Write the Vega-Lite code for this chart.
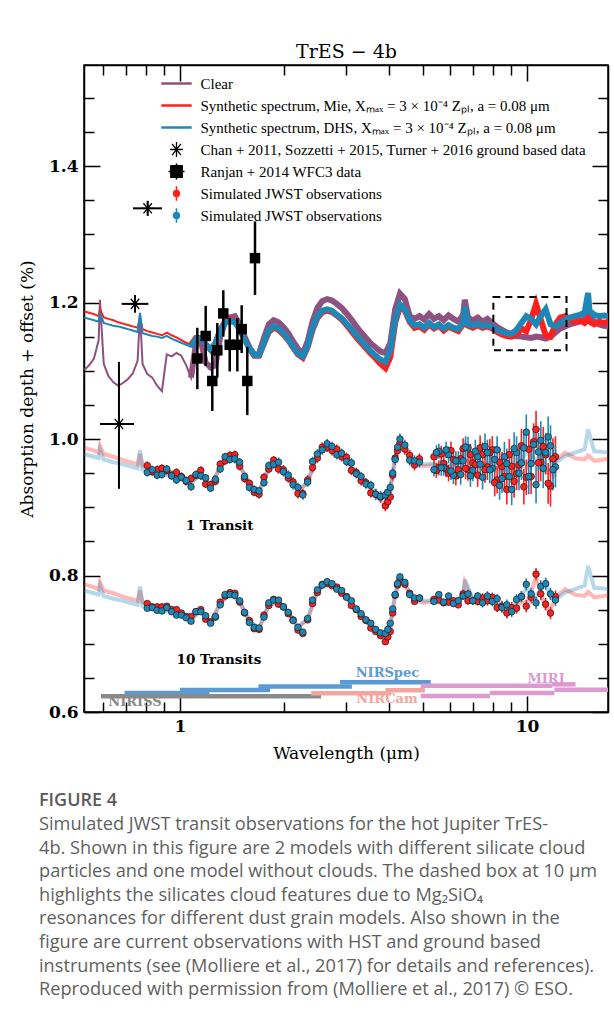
{
"$schema":"https://vega.github.io/schema/vega-lite/v6.json",
"width":524,"height":647,
"autosize":{"type":"none"},
"padding":{"left":84,"top":65,"right":6,"bottom":311},
"background":"#ffffff",
"title":{"text":"FIGURE 4","subtitle":["Simulated JWST transit observations for the hot Jupiter TrES-","4b. Shown in this figure are 2 models with different silicate cloud","particles and one model without clouds. The dashed box at 10 μm","highlights the silicates cloud features due to Mg₂SiO₄","resonances for different dust grain models. Also shown in the","figure are current observations with HST and ground based","instruments (see (Molliere et al., 2017) for details and references).","Reproduced with permission from (Molliere et al., 2017) © ESO."],"orient":"bottom","anchor":"start","frame":"group","dx":-45,"offset":31,"font":"Open Sans","fontSize":18,"fontWeight":600,"color":"#5a5a5a","subtitleFont":"Open Sans","subtitleFontSize":18.2,"subtitleColor":"#5f5f5f","subtitleLineHeight":23.6,"subtitlePadding":6},
"datasets":{
"lines":[
{"w":0.530,"s":"C","g":0,"v":1.101},{"w":0.547,"s":"C","g":0,"v":1.108},{"w":0.565,"s":"C","g":0,"v":1.118},{"w":0.583,"s":"C","g":0,"v":1.145},{"w":0.588,"s":"C","g":0,"v":1.204},{"w":0.603,"s":"C","g":0,"v":1.110},{"w":0.622,"s":"C","g":0,"v":1.092},{"w":0.643,"s":"C","g":0,"v":1.083},{"w":0.664,"s":"C","g":0,"v":1.078},{"w":0.685,"s":"C","g":0,"v":1.082},{"w":0.708,"s":"C","g":0,"v":1.088},{"w":0.731,"s":"C","g":0,"v":1.096},{"w":0.755,"s":"C","g":0,"v":1.115},{"w":0.767,"s":"C","g":0,"v":1.185},{"w":0.780,"s":"C","g":0,"v":1.110},{"w":0.805,"s":"C","g":0,"v":1.095},{"w":0.832,"s":"C","g":0,"v":1.090},{"w":0.859,"s":"C","g":0,"v":1.078},{"w":0.887,"s":"C","g":0,"v":1.070},{"w":0.916,"s":"C","g":0,"v":1.124},{"w":0.946,"s":"C","g":0,"v":1.121},{"w":0.977,"s":"C","g":0,"v":1.126},{"w":1.009,"s":"C","g":0,"v":1.122},{"w":1.042,"s":"C","g":0,"v":1.108},{"w":1.076,"s":"C","g":0,"v":1.090},{"w":1.112,"s":"C","g":0,"v":1.140},{"w":1.148,"s":"C","g":0,"v":1.145},{"w":1.186,"s":"C","g":0,"v":1.112},{"w":1.225,"s":"C","g":0,"v":1.105},{"w":1.265,"s":"C","g":0,"v":1.108},{"w":1.306,"s":"C","g":0,"v":1.150},{"w":1.349,"s":"C","g":0,"v":1.172},{"w":1.393,"s":"C","g":0,"v":1.178},{"w":1.439,"s":"C","g":0,"v":1.180},{"w":1.486,"s":"C","g":0,"v":1.168},{"w":1.535,"s":"C","g":0,"v":1.150},{"w":1.585,"s":"C","g":0,"v":1.134},{"w":1.637,"s":"C","g":0,"v":1.124},{"w":1.690,"s":"C","g":0,"v":1.125},{"w":1.746,"s":"C","g":0,"v":1.148},{"w":1.803,"s":"C","g":0,"v":1.168},{"w":1.862,"s":"C","g":0,"v":1.174},{"w":1.923,"s":"C","g":0,"v":1.171},{"w":1.986,"s":"C","g":0,"v":1.164},{"w":2.051,"s":"C","g":0,"v":1.155},{"w":2.118,"s":"C","g":0,"v":1.143},{"w":2.188,"s":"C","g":0,"v":1.132},{"w":2.259,"s":"C","g":0,"v":1.125},{"w":2.333,"s":"C","g":0,"v":1.143},{"w":2.410,"s":"C","g":0,"v":1.172},{"w":2.489,"s":"C","g":0,"v":1.192},{"w":2.570,"s":"C","g":0,"v":1.202},{"w":2.655,"s":"C","g":0,"v":1.205},{"w":2.742,"s":"C","g":0,"v":1.203},{"w":2.831,"s":"C","g":0,"v":1.198},{"w":2.924,"s":"C","g":0,"v":1.192},{"w":3.020,"s":"C","g":0,"v":1.184},{"w":3.119,"s":"C","g":0,"v":1.175},{"w":3.221,"s":"C","g":0,"v":1.165},{"w":3.327,"s":"C","g":0,"v":1.156},{"w":3.436,"s":"C","g":0,"v":1.148},{"w":3.548,"s":"C","g":0,"v":1.140},{"w":3.664,"s":"C","g":0,"v":1.134},{"w":3.784,"s":"C","g":0,"v":1.128},{"w":3.908,"s":"C","g":0,"v":1.126},{"w":4.036,"s":"C","g":0,"v":1.140},{"w":4.169,"s":"C","g":0,"v":1.190},{"w":4.305,"s":"C","g":0,"v":1.213},{"w":4.446,"s":"C","g":0,"v":1.205},{"w":4.592,"s":"C","g":0,"v":1.180},{"w":4.742,"s":"C","g":0,"v":1.176},{"w":4.898,"s":"C","g":0,"v":1.180},{"w":5.058,"s":"C","g":0,"v":1.175},{"w":5.224,"s":"C","g":0,"v":1.183},{"w":5.395,"s":"C","g":0,"v":1.176},{"w":5.572,"s":"C","g":0,"v":1.180},{"w":5.754,"s":"C","g":0,"v":1.174},{"w":5.943,"s":"C","g":0,"v":1.181},{"w":6.138,"s":"C","g":0,"v":1.176},{"w":6.339,"s":"C","g":0,"v":1.172},{"w":6.546,"s":"C","g":0,"v":1.182},{"w":6.62,"s":"C","g":0,"v":1.204},{"w":6.761,"s":"C","g":0,"v":1.178},{"w":6.982,"s":"C","g":0,"v":1.174},{"w":7.211,"s":"C","g":0,"v":1.178},{"w":7.447,"s":"C","g":0,"v":1.172},{"w":7.691,"s":"C","g":0,"v":1.176},{"w":7.943,"s":"C","g":0,"v":1.170},{"w":8.204,"s":"C","g":0,"v":1.164},{"w":8.472,"s":"C","g":0,"v":1.160},{"w":8.750,"s":"C","g":0,"v":1.156},{"w":9.036,"s":"C","g":0,"v":1.153},{"w":9.333,"s":"C","g":0,"v":1.151},{"w":9.638,"s":"C","g":0,"v":1.150},{"w":9.954,"s":"C","g":0,"v":1.149},{"w":10.28,"s":"C","g":0,"v":1.148},{"w":10.62,"s":"C","g":0,"v":1.150},{"w":10.96,"s":"C","g":0,"v":1.149},{"w":11.32,"s":"C","g":0,"v":1.147},{"w":11.69,"s":"C","g":0,"v":1.150},{"w":12.08,"s":"C","g":0,"v":1.156},{"w":12.47,"s":"C","g":0,"v":1.162},{"w":12.88,"s":"C","g":0,"v":1.165},{"w":13.30,"s":"C","g":0,"v":1.168},{"w":13.74,"s":"C","g":0,"v":1.170},{"w":14.19,"s":"C","g":0,"v":1.172},{"w":14.66,"s":"C","g":0,"v":1.175},{"w":15.0,"s":"C","g":0,"v":1.190},{"w":15.14,"s":"C","g":0,"v":1.180},{"w":15.63,"s":"C","g":0,"v":1.172},{"w":16.14,"s":"C","g":0,"v":1.168},{"w":16.67,"s":"C","g":0,"v":1.166},{"w":17.22,"s":"C","g":0,"v":1.165},
{"w":0.530,"s":"M","g":0,"v":1.187},{"w":0.547,"s":"M","g":0,"v":1.185},{"w":0.565,"s":"M","g":0,"v":1.183},{"w":0.583,"s":"M","g":0,"v":1.180},{"w":0.588,"s":"M","g":0,"v":1.190},{"w":0.603,"s":"M","g":0,"v":1.178},{"w":0.622,"s":"M","g":0,"v":1.176},{"w":0.643,"s":"M","g":0,"v":1.174},{"w":0.664,"s":"M","g":0,"v":1.171},{"w":0.685,"s":"M","g":0,"v":1.169},{"w":0.708,"s":"M","g":0,"v":1.167},{"w":0.731,"s":"M","g":0,"v":1.165},{"w":0.755,"s":"M","g":0,"v":1.163},{"w":0.767,"s":"M","g":0,"v":1.178},{"w":0.780,"s":"M","g":0,"v":1.161},{"w":0.805,"s":"M","g":0,"v":1.158},{"w":0.832,"s":"M","g":0,"v":1.156},{"w":0.859,"s":"M","g":0,"v":1.154},{"w":0.887,"s":"M","g":0,"v":1.152},{"w":0.916,"s":"M","g":0,"v":1.156},{"w":0.946,"s":"M","g":0,"v":1.152},{"w":0.977,"s":"M","g":0,"v":1.149},{"w":1.009,"s":"M","g":0,"v":1.145},{"w":1.042,"s":"M","g":0,"v":1.141},{"w":1.076,"s":"M","g":0,"v":1.138},{"w":1.112,"s":"M","g":0,"v":1.148},{"w":1.148,"s":"M","g":0,"v":1.148},{"w":1.186,"s":"M","g":0,"v":1.138},{"w":1.225,"s":"M","g":0,"v":1.131},{"w":1.265,"s":"M","g":0,"v":1.140},{"w":1.306,"s":"M","g":0,"v":1.160},{"w":1.349,"s":"M","g":0,"v":1.172},{"w":1.393,"s":"M","g":0,"v":1.175},{"w":1.439,"s":"M","g":0,"v":1.172},{"w":1.486,"s":"M","g":0,"v":1.162},{"w":1.535,"s":"M","g":0,"v":1.147},{"w":1.585,"s":"M","g":0,"v":1.133},{"w":1.637,"s":"M","g":0,"v":1.122},{"w":1.690,"s":"M","g":0,"v":1.122},{"w":1.746,"s":"M","g":0,"v":1.140},{"w":1.803,"s":"M","g":0,"v":1.157},{"w":1.862,"s":"M","g":0,"v":1.163},{"w":1.923,"s":"M","g":0,"v":1.160},{"w":1.986,"s":"M","g":0,"v":1.153},{"w":2.051,"s":"M","g":0,"v":1.145},{"w":2.118,"s":"M","g":0,"v":1.134},{"w":2.188,"s":"M","g":0,"v":1.124},{"w":2.259,"s":"M","g":0,"v":1.119},{"w":2.333,"s":"M","g":0,"v":1.135},{"w":2.410,"s":"M","g":0,"v":1.160},{"w":2.489,"s":"M","g":0,"v":1.177},{"w":2.570,"s":"M","g":0,"v":1.186},{"w":2.655,"s":"M","g":0,"v":1.188},{"w":2.742,"s":"M","g":0,"v":1.186},{"w":2.831,"s":"M","g":0,"v":1.181},{"w":2.924,"s":"M","g":0,"v":1.175},{"w":3.020,"s":"M","g":0,"v":1.167},{"w":3.119,"s":"M","g":0,"v":1.158},{"w":3.221,"s":"M","g":0,"v":1.149},{"w":3.327,"s":"M","g":0,"v":1.141},{"w":3.436,"s":"M","g":0,"v":1.133},{"w":3.548,"s":"M","g":0,"v":1.125},{"w":3.664,"s":"M","g":0,"v":1.118},{"w":3.784,"s":"M","g":0,"v":1.110},{"w":3.908,"s":"M","g":0,"v":1.104},{"w":4.036,"s":"M","g":0,"v":1.120},{"w":4.169,"s":"M","g":0,"v":1.170},{"w":4.305,"s":"M","g":0,"v":1.194},{"w":4.446,"s":"M","g":0,"v":1.188},{"w":4.592,"s":"M","g":0,"v":1.172},{"w":4.742,"s":"M","g":0,"v":1.163},{"w":4.898,"s":"M","g":0,"v":1.165},{"w":5.058,"s":"M","g":0,"v":1.160},{"w":5.224,"s":"M","g":0,"v":1.168},{"w":5.395,"s":"M","g":0,"v":1.162},{"w":5.572,"s":"M","g":0,"v":1.166},{"w":5.754,"s":"M","g":0,"v":1.159},{"w":5.943,"s":"M","g":0,"v":1.165},{"w":6.138,"s":"M","g":0,"v":1.161},{"w":6.339,"s":"M","g":0,"v":1.158},{"w":6.546,"s":"M","g":0,"v":1.168},{"w":6.62,"s":"M","g":0,"v":1.190},{"w":6.761,"s":"M","g":0,"v":1.166},{"w":6.982,"s":"M","g":0,"v":1.163},{"w":7.211,"s":"M","g":0,"v":1.167},{"w":7.447,"s":"M","g":0,"v":1.163},{"w":7.691,"s":"M","g":0,"v":1.165},{"w":7.943,"s":"M","g":0,"v":1.162},{"w":8.204,"s":"M","g":0,"v":1.157},{"w":8.472,"s":"M","g":0,"v":1.153},{"w":8.750,"s":"M","g":0,"v":1.151},{"w":9.036,"s":"M","g":0,"v":1.150},{"w":9.333,"s":"M","g":0,"v":1.153},{"w":9.638,"s":"M","g":0,"v":1.162},{"w":9.954,"s":"M","g":0,"v":1.158},{"w":10.28,"s":"M","g":0,"v":1.175},{"w":10.62,"s":"M","g":0,"v":1.198},{"w":10.96,"s":"M","g":0,"v":1.175},{"w":11.32,"s":"M","g":0,"v":1.152},{"w":11.69,"s":"M","g":0,"v":1.150},{"w":12.08,"s":"M","g":0,"v":1.168},{"w":12.47,"s":"M","g":0,"v":1.178},{"w":12.88,"s":"M","g":0,"v":1.180},{"w":13.30,"s":"M","g":0,"v":1.176},{"w":13.74,"s":"M","g":0,"v":1.172},{"w":14.19,"s":"M","g":0,"v":1.174},{"w":14.66,"s":"M","g":0,"v":1.170},{"w":15.0,"s":"M","g":0,"v":1.176},{"w":15.14,"s":"M","g":0,"v":1.172},{"w":15.63,"s":"M","g":0,"v":1.168},{"w":16.14,"s":"M","g":0,"v":1.172},{"w":16.67,"s":"M","g":0,"v":1.170},{"w":17.22,"s":"M","g":0,"v":1.172},
{"w":0.530,"s":"D","g":0,"v":1.178},{"w":0.547,"s":"D","g":0,"v":1.176},{"w":0.565,"s":"D","g":0,"v":1.174},{"w":0.583,"s":"D","g":0,"v":1.172},{"w":0.588,"s":"D","g":0,"v":1.184},{"w":0.603,"s":"D","g":0,"v":1.170},{"w":0.622,"s":"D","g":0,"v":1.168},{"w":0.643,"s":"D","g":0,"v":1.166},{"w":0.664,"s":"D","g":0,"v":1.165},{"w":0.685,"s":"D","g":0,"v":1.163},{"w":0.708,"s":"D","g":0,"v":1.161},{"w":0.731,"s":"D","g":0,"v":1.159},{"w":0.755,"s":"D","g":0,"v":1.157},{"w":0.767,"s":"D","g":0,"v":1.184},{"w":0.780,"s":"D","g":0,"v":1.155},{"w":0.805,"s":"D","g":0,"v":1.153},{"w":0.832,"s":"D","g":0,"v":1.151},{"w":0.859,"s":"D","g":0,"v":1.150},{"w":0.887,"s":"D","g":0,"v":1.148},{"w":0.916,"s":"D","g":0,"v":1.151},{"w":0.946,"s":"D","g":0,"v":1.147},{"w":0.977,"s":"D","g":0,"v":1.144},{"w":1.009,"s":"D","g":0,"v":1.141},{"w":1.042,"s":"D","g":0,"v":1.138},{"w":1.076,"s":"D","g":0,"v":1.135},{"w":1.112,"s":"D","g":0,"v":1.146},{"w":1.148,"s":"D","g":0,"v":1.148},{"w":1.186,"s":"D","g":0,"v":1.139},{"w":1.225,"s":"D","g":0,"v":1.131},{"w":1.265,"s":"D","g":0,"v":1.140},{"w":1.306,"s":"D","g":0,"v":1.158},{"w":1.349,"s":"D","g":0,"v":1.170},{"w":1.393,"s":"D","g":0,"v":1.173},{"w":1.439,"s":"D","g":0,"v":1.171},{"w":1.486,"s":"D","g":0,"v":1.161},{"w":1.535,"s":"D","g":0,"v":1.146},{"w":1.585,"s":"D","g":0,"v":1.133},{"w":1.637,"s":"D","g":0,"v":1.123},{"w":1.690,"s":"D","g":0,"v":1.123},{"w":1.746,"s":"D","g":0,"v":1.141},{"w":1.803,"s":"D","g":0,"v":1.159},{"w":1.862,"s":"D","g":0,"v":1.165},{"w":1.923,"s":"D","g":0,"v":1.162},{"w":1.986,"s":"D","g":0,"v":1.155},{"w":2.051,"s":"D","g":0,"v":1.146},{"w":2.118,"s":"D","g":0,"v":1.135},{"w":2.188,"s":"D","g":0,"v":1.125},{"w":2.259,"s":"D","g":0,"v":1.121},{"w":2.333,"s":"D","g":0,"v":1.137},{"w":2.410,"s":"D","g":0,"v":1.162},{"w":2.489,"s":"D","g":0,"v":1.179},{"w":2.570,"s":"D","g":0,"v":1.188},{"w":2.655,"s":"D","g":0,"v":1.190},{"w":2.742,"s":"D","g":0,"v":1.188},{"w":2.831,"s":"D","g":0,"v":1.182},{"w":2.924,"s":"D","g":0,"v":1.177},{"w":3.020,"s":"D","g":0,"v":1.169},{"w":3.119,"s":"D","g":0,"v":1.161},{"w":3.221,"s":"D","g":0,"v":1.152},{"w":3.327,"s":"D","g":0,"v":1.144},{"w":3.436,"s":"D","g":0,"v":1.136},{"w":3.548,"s":"D","g":0,"v":1.128},{"w":3.664,"s":"D","g":0,"v":1.122},{"w":3.784,"s":"D","g":0,"v":1.116},{"w":3.908,"s":"D","g":0,"v":1.113},{"w":4.036,"s":"D","g":0,"v":1.130},{"w":4.169,"s":"D","g":0,"v":1.174},{"w":4.305,"s":"D","g":0,"v":1.197},{"w":4.446,"s":"D","g":0,"v":1.190},{"w":4.592,"s":"D","g":0,"v":1.174},{"w":4.742,"s":"D","g":0,"v":1.166},{"w":4.898,"s":"D","g":0,"v":1.168},{"w":5.058,"s":"D","g":0,"v":1.163},{"w":5.224,"s":"D","g":0,"v":1.170},{"w":5.395,"s":"D","g":0,"v":1.164},{"w":5.572,"s":"D","g":0,"v":1.168},{"w":5.754,"s":"D","g":0,"v":1.162},{"w":5.943,"s":"D","g":0,"v":1.167},{"w":6.138,"s":"D","g":0,"v":1.163},{"w":6.339,"s":"D","g":0,"v":1.161},{"w":6.546,"s":"D","g":0,"v":1.170},{"w":6.62,"s":"D","g":0,"v":1.194},{"w":6.761,"s":"D","g":0,"v":1.168},{"w":6.982,"s":"D","g":0,"v":1.166},{"w":7.211,"s":"D","g":0,"v":1.169},{"w":7.447,"s":"D","g":0,"v":1.165},{"w":7.691,"s":"D","g":0,"v":1.167},{"w":7.943,"s":"D","g":0,"v":1.164},{"w":8.204,"s":"D","g":0,"v":1.160},{"w":8.472,"s":"D","g":0,"v":1.157},{"w":8.750,"s":"D","g":0,"v":1.155},{"w":9.036,"s":"D","g":0,"v":1.154},{"w":9.333,"s":"D","g":0,"v":1.160},{"w":9.638,"s":"D","g":0,"v":1.170},{"w":9.954,"s":"D","g":0,"v":1.180},{"w":10.28,"s":"D","g":0,"v":1.176},{"w":10.62,"s":"D","g":0,"v":1.168},{"w":10.96,"s":"D","g":0,"v":1.180},{"w":11.32,"s":"D","g":0,"v":1.190},{"w":11.69,"s":"D","g":0,"v":1.168},{"w":12.08,"s":"D","g":0,"v":1.165},{"w":12.47,"s":"D","g":0,"v":1.170},{"w":12.88,"s":"D","g":0,"v":1.175},{"w":13.30,"s":"D","g":0,"v":1.178},{"w":13.74,"s":"D","g":0,"v":1.180},{"w":14.19,"s":"D","g":0,"v":1.182},{"w":14.66,"s":"D","g":0,"v":1.185},{"w":15.0,"s":"D","g":0,"v":1.214},{"w":15.14,"s":"D","g":0,"v":1.188},{"w":15.63,"s":"D","g":0,"v":1.182},{"w":16.14,"s":"D","g":0,"v":1.180},{"w":16.67,"s":"D","g":0,"v":1.181},{"w":17.22,"s":"D","g":0,"v":1.180},
{"w":0.530,"s":"M","g":1,"v":0.987},{"w":0.565,"s":"M","g":1,"v":0.983},{"w":0.583,"s":"M","g":1,"v":0.980},{"w":0.588,"s":"M","g":1,"v":0.990},{"w":0.603,"s":"M","g":1,"v":0.978},{"w":0.643,"s":"M","g":1,"v":0.974},{"w":0.685,"s":"M","g":1,"v":0.969},{"w":0.731,"s":"M","g":1,"v":0.965},{"w":0.755,"s":"M","g":1,"v":0.963},{"w":0.767,"s":"M","g":1,"v":0.978},{"w":0.780,"s":"M","g":1,"v":0.961},{"w":0.832,"s":"M","g":1,"v":0.956},{"w":0.887,"s":"M","g":1,"v":0.952},{"w":0.946,"s":"M","g":1,"v":0.952},{"w":1.009,"s":"M","g":1,"v":0.945},{"w":1.076,"s":"M","g":1,"v":0.938},{"w":1.148,"s":"M","g":1,"v":0.948},{"w":1.225,"s":"M","g":1,"v":0.931},{"w":1.306,"s":"M","g":1,"v":0.960},{"w":1.393,"s":"M","g":1,"v":0.975},{"w":1.486,"s":"M","g":1,"v":0.962},{"w":1.585,"s":"M","g":1,"v":0.933},{"w":1.690,"s":"M","g":1,"v":0.922},{"w":1.803,"s":"M","g":1,"v":0.957},{"w":1.923,"s":"M","g":1,"v":0.960},{"w":2.051,"s":"M","g":1,"v":0.945},{"w":2.188,"s":"M","g":1,"v":0.924},{"w":2.333,"s":"M","g":1,"v":0.935},{"w":2.489,"s":"M","g":1,"v":0.977},{"w":2.655,"s":"M","g":1,"v":0.988},{"w":2.831,"s":"M","g":1,"v":0.981},{"w":3.020,"s":"M","g":1,"v":0.967},{"w":3.221,"s":"M","g":1,"v":0.949},{"w":3.436,"s":"M","g":1,"v":0.933},{"w":3.664,"s":"M","g":1,"v":0.918},{"w":3.784,"s":"M","g":1,"v":0.910},{"w":3.908,"s":"M","g":1,"v":0.904},{"w":4.036,"s":"M","g":1,"v":0.920},{"w":4.169,"s":"M","g":1,"v":0.970},{"w":4.305,"s":"M","g":1,"v":0.994},{"w":4.446,"s":"M","g":1,"v":0.988},{"w":4.592,"s":"M","g":1,"v":0.972},{"w":4.742,"s":"M","g":1,"v":0.963},{"w":5.058,"s":"M","g":1,"v":0.960},{"w":5.395,"s":"M","g":1,"v":0.962},{"w":5.754,"s":"M","g":1,"v":0.959},{"w":6.138,"s":"M","g":1,"v":0.961},{"w":6.546,"s":"M","g":1,"v":0.968},{"w":6.62,"s":"M","g":1,"v":0.990},{"w":6.982,"s":"M","g":1,"v":0.963},{"w":7.447,"s":"M","g":1,"v":0.963},{"w":7.943,"s":"M","g":1,"v":0.962},{"w":8.472,"s":"M","g":1,"v":0.953},{"w":9.036,"s":"M","g":1,"v":0.950},{"w":9.333,"s":"M","g":1,"v":0.953},{"w":9.638,"s":"M","g":1,"v":0.962},{"w":9.954,"s":"M","g":1,"v":0.958},{"w":10.28,"s":"M","g":1,"v":0.975},{"w":10.62,"s":"M","g":1,"v":0.998},{"w":10.96,"s":"M","g":1,"v":0.975},{"w":11.32,"s":"M","g":1,"v":0.952},{"w":11.69,"s":"M","g":1,"v":0.950},{"w":12.08,"s":"M","g":1,"v":0.968},{"w":12.88,"s":"M","g":1,"v":0.980},{"w":13.74,"s":"M","g":1,"v":0.972},{"w":14.66,"s":"M","g":1,"v":0.970},{"w":15.0,"s":"M","g":1,"v":0.976},{"w":15.63,"s":"M","g":1,"v":0.968},{"w":16.67,"s":"M","g":1,"v":0.970},{"w":17.22,"s":"M","g":1,"v":0.972},
{"w":0.530,"s":"D","g":1,"v":0.978},{"w":0.565,"s":"D","g":1,"v":0.974},{"w":0.583,"s":"D","g":1,"v":0.972},{"w":0.588,"s":"D","g":1,"v":0.984},{"w":0.603,"s":"D","g":1,"v":0.970},{"w":0.643,"s":"D","g":1,"v":0.966},{"w":0.685,"s":"D","g":1,"v":0.963},{"w":0.731,"s":"D","g":1,"v":0.959},{"w":0.755,"s":"D","g":1,"v":0.957},{"w":0.767,"s":"D","g":1,"v":0.984},{"w":0.780,"s":"D","g":1,"v":0.955},{"w":0.832,"s":"D","g":1,"v":0.951},{"w":0.887,"s":"D","g":1,"v":0.948},{"w":0.946,"s":"D","g":1,"v":0.947},{"w":1.009,"s":"D","g":1,"v":0.941},{"w":1.076,"s":"D","g":1,"v":0.935},{"w":1.148,"s":"D","g":1,"v":0.948},{"w":1.225,"s":"D","g":1,"v":0.931},{"w":1.306,"s":"D","g":1,"v":0.958},{"w":1.393,"s":"D","g":1,"v":0.973},{"w":1.486,"s":"D","g":1,"v":0.961},{"w":1.585,"s":"D","g":1,"v":0.933},{"w":1.690,"s":"D","g":1,"v":0.923},{"w":1.803,"s":"D","g":1,"v":0.959},{"w":1.923,"s":"D","g":1,"v":0.962},{"w":2.051,"s":"D","g":1,"v":0.946},{"w":2.188,"s":"D","g":1,"v":0.925},{"w":2.333,"s":"D","g":1,"v":0.937},{"w":2.489,"s":"D","g":1,"v":0.979},{"w":2.655,"s":"D","g":1,"v":0.990},{"w":2.831,"s":"D","g":1,"v":0.982},{"w":3.020,"s":"D","g":1,"v":0.969},{"w":3.221,"s":"D","g":1,"v":0.952},{"w":3.436,"s":"D","g":1,"v":0.936},{"w":3.664,"s":"D","g":1,"v":0.922},{"w":3.784,"s":"D","g":1,"v":0.916},{"w":3.908,"s":"D","g":1,"v":0.913},{"w":4.036,"s":"D","g":1,"v":0.930},{"w":4.169,"s":"D","g":1,"v":0.974},{"w":4.305,"s":"D","g":1,"v":0.997},{"w":4.446,"s":"D","g":1,"v":0.990},{"w":4.592,"s":"D","g":1,"v":0.974},{"w":4.742,"s":"D","g":1,"v":0.966},{"w":5.058,"s":"D","g":1,"v":0.963},{"w":5.395,"s":"D","g":1,"v":0.964},{"w":5.754,"s":"D","g":1,"v":0.962},{"w":6.138,"s":"D","g":1,"v":0.963},{"w":6.546,"s":"D","g":1,"v":0.970},{"w":6.62,"s":"D","g":1,"v":0.994},{"w":6.982,"s":"D","g":1,"v":0.966},{"w":7.447,"s":"D","g":1,"v":0.965},{"w":7.943,"s":"D","g":1,"v":0.964},{"w":8.472,"s":"D","g":1,"v":0.957},{"w":9.036,"s":"D","g":1,"v":0.954},{"w":9.333,"s":"D","g":1,"v":0.960},{"w":9.638,"s":"D","g":1,"v":0.970},{"w":9.954,"s":"D","g":1,"v":0.980},{"w":10.28,"s":"D","g":1,"v":0.976},{"w":10.62,"s":"D","g":1,"v":0.968},{"w":10.96,"s":"D","g":1,"v":0.980},{"w":11.32,"s":"D","g":1,"v":0.990},{"w":11.69,"s":"D","g":1,"v":0.968},{"w":12.08,"s":"D","g":1,"v":0.965},{"w":12.88,"s":"D","g":1,"v":0.975},{"w":13.74,"s":"D","g":1,"v":0.980},{"w":14.66,"s":"D","g":1,"v":0.985},{"w":15.0,"s":"D","g":1,"v":1.014},{"w":15.63,"s":"D","g":1,"v":0.982},{"w":16.67,"s":"D","g":1,"v":0.981},{"w":17.22,"s":"D","g":1,"v":0.980},
{"w":0.530,"s":"M","g":2,"v":0.787},{"w":0.565,"s":"M","g":2,"v":0.783},{"w":0.583,"s":"M","g":2,"v":0.780},{"w":0.588,"s":"M","g":2,"v":0.790},{"w":0.603,"s":"M","g":2,"v":0.778},{"w":0.643,"s":"M","g":2,"v":0.774},{"w":0.685,"s":"M","g":2,"v":0.769},{"w":0.731,"s":"M","g":2,"v":0.765},{"w":0.755,"s":"M","g":2,"v":0.763},{"w":0.767,"s":"M","g":2,"v":0.778},{"w":0.780,"s":"M","g":2,"v":0.761},{"w":0.832,"s":"M","g":2,"v":0.756},{"w":0.887,"s":"M","g":2,"v":0.752},{"w":0.946,"s":"M","g":2,"v":0.752},{"w":1.009,"s":"M","g":2,"v":0.745},{"w":1.076,"s":"M","g":2,"v":0.738},{"w":1.148,"s":"M","g":2,"v":0.748},{"w":1.225,"s":"M","g":2,"v":0.731},{"w":1.306,"s":"M","g":2,"v":0.760},{"w":1.393,"s":"M","g":2,"v":0.775},{"w":1.486,"s":"M","g":2,"v":0.762},{"w":1.585,"s":"M","g":2,"v":0.733},{"w":1.690,"s":"M","g":2,"v":0.722},{"w":1.803,"s":"M","g":2,"v":0.757},{"w":1.923,"s":"M","g":2,"v":0.760},{"w":2.051,"s":"M","g":2,"v":0.745},{"w":2.188,"s":"M","g":2,"v":0.724},{"w":2.333,"s":"M","g":2,"v":0.735},{"w":2.489,"s":"M","g":2,"v":0.777},{"w":2.655,"s":"M","g":2,"v":0.788},{"w":2.831,"s":"M","g":2,"v":0.781},{"w":3.020,"s":"M","g":2,"v":0.767},{"w":3.221,"s":"M","g":2,"v":0.749},{"w":3.436,"s":"M","g":2,"v":0.733},{"w":3.664,"s":"M","g":2,"v":0.718},{"w":3.784,"s":"M","g":2,"v":0.710},{"w":3.908,"s":"M","g":2,"v":0.704},{"w":4.036,"s":"M","g":2,"v":0.720},{"w":4.169,"s":"M","g":2,"v":0.770},{"w":4.305,"s":"M","g":2,"v":0.794},{"w":4.446,"s":"M","g":2,"v":0.788},{"w":4.592,"s":"M","g":2,"v":0.772},{"w":4.742,"s":"M","g":2,"v":0.763},{"w":5.058,"s":"M","g":2,"v":0.760},{"w":5.395,"s":"M","g":2,"v":0.762},{"w":5.754,"s":"M","g":2,"v":0.759},{"w":6.138,"s":"M","g":2,"v":0.761},{"w":6.546,"s":"M","g":2,"v":0.768},{"w":6.62,"s":"M","g":2,"v":0.790},{"w":6.982,"s":"M","g":2,"v":0.763},{"w":7.447,"s":"M","g":2,"v":0.763},{"w":7.943,"s":"M","g":2,"v":0.762},{"w":8.472,"s":"M","g":2,"v":0.753},{"w":9.036,"s":"M","g":2,"v":0.750},{"w":9.333,"s":"M","g":2,"v":0.753},{"w":9.638,"s":"M","g":2,"v":0.762},{"w":9.954,"s":"M","g":2,"v":0.758},{"w":10.28,"s":"M","g":2,"v":0.775},{"w":10.62,"s":"M","g":2,"v":0.798},{"w":10.96,"s":"M","g":2,"v":0.775},{"w":11.32,"s":"M","g":2,"v":0.752},{"w":11.69,"s":"M","g":2,"v":0.750},{"w":12.08,"s":"M","g":2,"v":0.768},{"w":12.88,"s":"M","g":2,"v":0.780},{"w":13.74,"s":"M","g":2,"v":0.772},{"w":14.66,"s":"M","g":2,"v":0.770},{"w":15.0,"s":"M","g":2,"v":0.776},{"w":15.63,"s":"M","g":2,"v":0.768},{"w":16.67,"s":"M","g":2,"v":0.770},{"w":17.22,"s":"M","g":2,"v":0.772},
{"w":0.530,"s":"D","g":2,"v":0.778},{"w":0.565,"s":"D","g":2,"v":0.774},{"w":0.583,"s":"D","g":2,"v":0.772},{"w":0.588,"s":"D","g":2,"v":0.784},{"w":0.603,"s":"D","g":2,"v":0.770},{"w":0.643,"s":"D","g":2,"v":0.766},{"w":0.685,"s":"D","g":2,"v":0.763},{"w":0.731,"s":"D","g":2,"v":0.759},{"w":0.755,"s":"D","g":2,"v":0.757},{"w":0.767,"s":"D","g":2,"v":0.784},{"w":0.780,"s":"D","g":2,"v":0.755},{"w":0.832,"s":"D","g":2,"v":0.751},{"w":0.887,"s":"D","g":2,"v":0.748},{"w":0.946,"s":"D","g":2,"v":0.747},{"w":1.009,"s":"D","g":2,"v":0.741},{"w":1.076,"s":"D","g":2,"v":0.735},{"w":1.148,"s":"D","g":2,"v":0.748},{"w":1.225,"s":"D","g":2,"v":0.731},{"w":1.306,"s":"D","g":2,"v":0.758},{"w":1.393,"s":"D","g":2,"v":0.773},{"w":1.486,"s":"D","g":2,"v":0.761},{"w":1.585,"s":"D","g":2,"v":0.733},{"w":1.690,"s":"D","g":2,"v":0.723},{"w":1.803,"s":"D","g":2,"v":0.759},{"w":1.923,"s":"D","g":2,"v":0.762},{"w":2.051,"s":"D","g":2,"v":0.746},{"w":2.188,"s":"D","g":2,"v":0.725},{"w":2.333,"s":"D","g":2,"v":0.737},{"w":2.489,"s":"D","g":2,"v":0.779},{"w":2.655,"s":"D","g":2,"v":0.790},{"w":2.831,"s":"D","g":2,"v":0.782},{"w":3.020,"s":"D","g":2,"v":0.769},{"w":3.221,"s":"D","g":2,"v":0.752},{"w":3.436,"s":"D","g":2,"v":0.736},{"w":3.664,"s":"D","g":2,"v":0.722},{"w":3.784,"s":"D","g":2,"v":0.716},{"w":3.908,"s":"D","g":2,"v":0.713},{"w":4.036,"s":"D","g":2,"v":0.730},{"w":4.169,"s":"D","g":2,"v":0.774},{"w":4.305,"s":"D","g":2,"v":0.797},{"w":4.446,"s":"D","g":2,"v":0.790},{"w":4.592,"s":"D","g":2,"v":0.774},{"w":4.742,"s":"D","g":2,"v":0.766},{"w":5.058,"s":"D","g":2,"v":0.763},{"w":5.395,"s":"D","g":2,"v":0.764},{"w":5.754,"s":"D","g":2,"v":0.762},{"w":6.138,"s":"D","g":2,"v":0.763},{"w":6.546,"s":"D","g":2,"v":0.770},{"w":6.62,"s":"D","g":2,"v":0.794},{"w":6.982,"s":"D","g":2,"v":0.766},{"w":7.447,"s":"D","g":2,"v":0.765},{"w":7.943,"s":"D","g":2,"v":0.764},{"w":8.472,"s":"D","g":2,"v":0.757},{"w":9.036,"s":"D","g":2,"v":0.754},{"w":9.333,"s":"D","g":2,"v":0.760},{"w":9.638,"s":"D","g":2,"v":0.770},{"w":9.954,"s":"D","g":2,"v":0.780},{"w":10.28,"s":"D","g":2,"v":0.776},{"w":10.62,"s":"D","g":2,"v":0.768},{"w":10.96,"s":"D","g":2,"v":0.780},{"w":11.32,"s":"D","g":2,"v":0.790},{"w":11.69,"s":"D","g":2,"v":0.768},{"w":12.08,"s":"D","g":2,"v":0.765},{"w":12.88,"s":"D","g":2,"v":0.775},{"w":13.74,"s":"D","g":2,"v":0.780},{"w":14.66,"s":"D","g":2,"v":0.785},{"w":15.0,"s":"D","g":2,"v":0.814},{"w":15.63,"s":"D","g":2,"v":0.782},{"w":16.67,"s":"D","g":2,"v":0.781},{"w":17.22,"s":"D","g":2,"v":0.780}
],
"pts":[
{"w":0.805,"s":"JM","v":0.961,"e":0.006},{"w":0.832,"s":"JM","v":0.952,"e":0.006},{"w":0.859,"s":"JM","v":0.955,"e":0.006},{"w":0.887,"s":"JM","v":0.957,"e":0.006},{"w":0.916,"s":"JM","v":0.954,"e":0.006},{"w":0.946,"s":"JM","v":0.947,"e":0.006},{"w":0.977,"s":"JM","v":0.951,"e":0.006},{"w":1.009,"s":"JM","v":0.945,"e":0.006},{"w":1.042,"s":"JM","v":0.938,"e":0.006},{"w":1.076,"s":"JM","v":0.942,"e":0.006},{"w":1.112,"s":"JM","v":0.947,"e":0.006},{"w":1.148,"s":"JM","v":0.954,"e":0.006},{"w":1.186,"s":"JM","v":0.934,"e":0.006},{"w":1.225,"s":"JM","v":0.933,"e":0.006},{"w":1.265,"s":"JM","v":0.938,"e":0.006},{"w":1.306,"s":"JM","v":0.963,"e":0.006},{"w":1.349,"s":"JM","v":0.968,"e":0.006},{"w":1.393,"s":"JM","v":0.976,"e":0.006},{"w":1.439,"s":"JM","v":0.977,"e":0.006},{"w":1.486,"s":"JM","v":0.960,"e":0.006},{"w":1.535,"s":"JM","v":0.942,"e":0.006},{"w":1.585,"s":"JM","v":0.935,"e":0.006},{"w":1.637,"s":"JM","v":0.922,"e":0.006},{"w":1.690,"s":"JM","v":0.919,"e":0.006},{"w":1.746,"s":"JM","v":0.944,"e":0.006},{"w":1.803,"s":"JM","v":0.956,"e":0.006},{"w":1.862,"s":"JM","v":0.969,"e":0.006},{"w":1.923,"s":"JM","v":0.956,"e":0.007},{"w":1.986,"s":"JM","v":0.955,"e":0.007},{"w":2.051,"s":"JM","v":0.943,"e":0.007},{"w":2.118,"s":"JM","v":0.937,"e":0.007},{"w":2.188,"s":"JM","v":0.920,"e":0.007},{"w":2.259,"s":"JM","v":0.920,"e":0.007},{"w":2.333,"s":"JM","v":0.940,"e":0.007},{"w":2.410,"s":"JM","v":0.958,"e":0.007},{"w":2.489,"s":"JM","v":0.972,"e":0.007},{"w":2.570,"s":"JM","v":0.988,"e":0.007},{"w":2.655,"s":"JM","v":0.988,"e":0.007},{"w":2.742,"s":"JM","v":0.983,"e":0.007},{"w":2.831,"s":"JM","v":0.985,"e":0.007},{"w":2.924,"s":"JM","v":0.974,"e":0.007},{"w":3.020,"s":"JM","v":0.973,"e":0.007},{"w":3.119,"s":"JM","v":0.954,"e":0.007},{"w":3.221,"s":"JM","v":0.951,"e":0.007},{"w":3.327,"s":"JM","v":0.939,"e":0.007},{"w":3.436,"s":"JM","v":0.936,"e":0.007},{"w":3.548,"s":"JM","v":0.921,"e":0.007},{"w":3.664,"s":"JM","v":0.919,"e":0.008},{"w":3.784,"s":"JM","v":0.915,"e":0.008},{"w":3.908,"s":"JM","v":0.902,"e":0.008},{"w":3.972,"s":"JM","v":0.908,"e":0.008},{"w":4.036,"s":"JM","v":0.915,"e":0.008},{"w":4.102,"s":"JM","v":0.947,"e":0.008},{"w":4.169,"s":"JM","v":0.972,"e":0.008},{"w":4.236,"s":"JM","v":0.983,"e":0.008},{"w":4.305,"s":"JM","v":0.994,"e":0.008},{"w":4.446,"s":"JM","v":0.985,"e":0.008},{"w":4.592,"s":"JM","v":0.976,"e":0.008},{"w":4.742,"s":"JM","v":0.962,"e":0.008},{"w":4.898,"s":"JM","v":0.971,"e":0.008},
{"w":5.395,"s":"JM","v":0.974,"e":0.010},{"w":5.572,"s":"JM","v":0.958,"e":0.011},{"w":5.754,"s":"JM","v":0.964,"e":0.012},{"w":5.943,"s":"JM","v":0.950,"e":0.012},{"w":6.138,"s":"JM","v":0.970,"e":0.013},{"w":6.339,"s":"JM","v":0.955,"e":0.014},{"w":6.546,"s":"JM","v":0.986,"e":0.015},{"w":6.761,"s":"JM","v":0.955,"e":0.016},{"w":6.982,"s":"JM","v":0.965,"e":0.016},{"w":7.211,"s":"JM","v":0.947,"e":0.017},{"w":7.447,"s":"JM","v":0.977,"e":0.018},{"w":7.691,"s":"JM","v":0.959,"e":0.019},{"w":7.943,"s":"JM","v":0.984,"e":0.020},{"w":8.204,"s":"JM","v":0.940,"e":0.020},{"w":8.472,"s":"JM","v":0.960,"e":0.021},{"w":8.750,"s":"JM","v":0.926,"e":0.022},{"w":9.036,"s":"JM","v":0.960,"e":0.023},{"w":9.333,"s":"JM","v":0.949,"e":0.024},{"w":9.638,"s":"JM","v":0.990,"e":0.025},{"w":9.954,"s":"JM","v":0.944,"e":0.026},{"w":10.28,"s":"JM","v":0.945,"e":0.026},{"w":10.62,"s":"JM","v":1.014,"e":0.027},{"w":10.96,"s":"JM","v":0.966,"e":0.028},{"w":11.32,"s":"JM","v":0.977,"e":0.029},{"w":11.69,"s":"JM","v":0.931,"e":0.030},{"w":12.08,"s":"JM","v":0.974,"e":0.030},
{"w":5.483,"s":"JM","v":0.954,"e":0.011},{"w":5.662,"s":"JM","v":0.978,"e":0.012},{"w":5.848,"s":"JM","v":0.956,"e":0.012},{"w":6.039,"s":"JM","v":0.983,"e":0.013},{"w":6.237,"s":"JM","v":0.946,"e":0.014},{"w":6.442,"s":"JM","v":0.971,"e":0.015},{"w":6.653,"s":"JM","v":0.957,"e":0.016},{"w":6.871,"s":"JM","v":0.977,"e":0.016},{"w":7.096,"s":"JM","v":0.962,"e":0.017},{"w":7.328,"s":"JM","v":0.987,"e":0.018},{"w":7.568,"s":"JM","v":0.955,"e":0.019},{"w":7.816,"s":"JM","v":0.980,"e":0.020},{"w":8.072,"s":"JM","v":0.936,"e":0.020},{"w":8.337,"s":"JM","v":0.966,"e":0.021},{"w":8.610,"s":"JM","v":0.945,"e":0.022},{"w":8.892,"s":"JM","v":0.977,"e":0.023},{"w":9.183,"s":"JM","v":0.938,"e":0.024},{"w":9.484,"s":"JM","v":0.962,"e":0.025},{"w":9.795,"s":"JM","v":0.930,"e":0.026},{"w":10.12,"s":"JM","v":0.985,"e":0.026},{"w":10.45,"s":"JM","v":0.996,"e":0.027},{"w":10.79,"s":"JM","v":0.965,"e":0.028},{"w":11.14,"s":"JM","v":0.989,"e":0.029},{"w":11.51,"s":"JM","v":0.935,"e":0.030},{"w":11.88,"s":"JM","v":0.971,"e":0.030},
{"w":0.805,"s":"JM","v":0.759,"e":0.002},{"w":0.832,"s":"JM","v":0.754,"e":0.002},{"w":0.859,"s":"JM","v":0.754,"e":0.002},{"w":0.887,"s":"JM","v":0.754,"e":0.002},{"w":0.916,"s":"JM","v":0.755,"e":0.002},{"w":0.946,"s":"JM","v":0.750,"e":0.002},{"w":0.977,"s":"JM","v":0.750,"e":0.002},{"w":1.009,"s":"JM","v":0.745,"e":0.002},{"w":1.042,"s":"JM","v":0.740,"e":0.002},{"w":1.076,"s":"JM","v":0.740,"e":0.002},{"w":1.112,"s":"JM","v":0.747,"e":0.002},{"w":1.148,"s":"JM","v":0.750,"e":0.002},{"w":1.186,"s":"JM","v":0.736,"e":0.002},{"w":1.225,"s":"JM","v":0.732,"e":0.002},{"w":1.265,"s":"JM","v":0.739,"e":0.002},{"w":1.306,"s":"JM","v":0.761,"e":0.002},{"w":1.349,"s":"JM","v":0.770,"e":0.002},{"w":1.393,"s":"JM","v":0.775,"e":0.002},{"w":1.439,"s":"JM","v":0.774,"e":0.002},{"w":1.486,"s":"JM","v":0.761,"e":0.002},{"w":1.535,"s":"JM","v":0.745,"e":0.002},{"w":1.585,"s":"JM","v":0.734,"e":0.002},{"w":1.637,"s":"JM","v":0.722,"e":0.002},{"w":1.690,"s":"JM","v":0.721,"e":0.002},{"w":1.746,"s":"JM","v":0.742,"e":0.002},{"w":1.803,"s":"JM","v":0.756,"e":0.002},{"w":1.862,"s":"JM","v":0.765,"e":0.002},{"w":1.923,"s":"JM","v":0.758,"e":0.002},{"w":1.986,"s":"JM","v":0.754,"e":0.002},{"w":2.051,"s":"JM","v":0.744,"e":0.002},{"w":2.118,"s":"JM","v":0.735,"e":0.002},{"w":2.188,"s":"JM","v":0.720,"e":0.002},{"w":2.259,"s":"JM","v":0.715,"e":0.002},{"w":2.333,"s":"JM","v":0.735,"e":0.002},{"w":2.410,"s":"JM","v":0.759,"e":0.002},{"w":2.489,"s":"JM","v":0.775,"e":0.002},{"w":2.570,"s":"JM","v":0.787,"e":0.002},{"w":2.655,"s":"JM","v":0.788,"e":0.002},{"w":2.742,"s":"JM","v":0.785,"e":0.002},{"w":2.831,"s":"JM","v":0.783,"e":0.002},{"w":2.924,"s":"JM","v":0.774,"e":0.002},{"w":3.020,"s":"JM","v":0.769,"e":0.002},{"w":3.119,"s":"JM","v":0.756,"e":0.002},{"w":3.221,"s":"JM","v":0.750,"e":0.002},{"w":3.327,"s":"JM","v":0.740,"e":0.002},{"w":3.436,"s":"JM","v":0.734,"e":0.002},{"w":3.548,"s":"JM","v":0.723,"e":0.002},{"w":3.664,"s":"JM","v":0.718,"e":0.002},{"w":3.784,"s":"JM","v":0.712,"e":0.002},{"w":3.908,"s":"JM","v":0.703,"e":0.002},{"w":3.972,"s":"JM","v":0.710,"e":0.002},{"w":4.036,"s":"JM","v":0.718,"e":0.002},{"w":4.102,"s":"JM","v":0.745,"e":0.002},{"w":4.169,"s":"JM","v":0.771,"e":0.002},{"w":4.236,"s":"JM","v":0.786,"e":0.002},{"w":4.305,"s":"JM","v":0.794,"e":0.002},{"w":4.446,"s":"JM","v":0.787,"e":0.002},{"w":4.592,"s":"JM","v":0.774,"e":0.002},{"w":4.742,"s":"JM","v":0.762,"e":0.002},{"w":4.898,"s":"JM","v":0.767,"e":0.002},
{"w":5.395,"s":"JM","v":0.765,"e":0.004},{"w":5.572,"s":"JM","v":0.764,"e":0.004},{"w":5.754,"s":"JM","v":0.760,"e":0.004},{"w":5.943,"s":"JM","v":0.761,"e":0.005},{"w":6.138,"s":"JM","v":0.763,"e":0.005},{"w":6.339,"s":"JM","v":0.757,"e":0.005},{"w":6.546,"s":"JM","v":0.773,"e":0.006},{"w":6.761,"s":"JM","v":0.763,"e":0.006},{"w":6.982,"s":"JM","v":0.763,"e":0.006},{"w":7.211,"s":"JM","v":0.762,"e":0.006},{"w":7.447,"s":"JM","v":0.767,"e":0.007},{"w":7.691,"s":"JM","v":0.763,"e":0.007},{"w":7.943,"s":"JM","v":0.768,"e":0.007},{"w":8.204,"s":"JM","v":0.753,"e":0.007},{"w":8.472,"s":"JM","v":0.755,"e":0.008},{"w":8.750,"s":"JM","v":0.745,"e":0.008},{"w":9.036,"s":"JM","v":0.753,"e":0.008},{"w":9.333,"s":"JM","v":0.752,"e":0.008},{"w":9.638,"s":"JM","v":0.769,"e":0.008},{"w":9.954,"s":"JM","v":0.755,"e":0.009},{"w":10.28,"s":"JM","v":0.768,"e":0.009},{"w":10.62,"s":"JM","v":0.802,"e":0.009},{"w":10.96,"s":"JM","v":0.773,"e":0.009},{"w":11.32,"s":"JM","v":0.758,"e":0.009},{"w":11.69,"s":"JM","v":0.745,"e":0.009},{"w":12.08,"s":"JM","v":0.769,"e":0.009},
{"w":0.805,"s":"JD","v":0.951,"e":0.006},{"w":0.832,"s":"JD","v":0.955,"e":0.006},{"w":0.859,"s":"JD","v":0.947,"e":0.006},{"w":0.887,"s":"JD","v":0.948,"e":0.006},{"w":0.916,"s":"JD","v":0.956,"e":0.006},{"w":0.946,"s":"JD","v":0.946,"e":0.006},{"w":0.977,"s":"JD","v":0.940,"e":0.006},{"w":1.009,"s":"JD","v":0.944,"e":0.006},{"w":1.042,"s":"JD","v":0.939,"e":0.006},{"w":1.076,"s":"JD","v":0.930,"e":0.006},{"w":1.112,"s":"JD","v":0.948,"e":0.006},{"w":1.148,"s":"JD","v":0.946,"e":0.006},{"w":1.186,"s":"JD","v":0.943,"e":0.006},{"w":1.225,"s":"JD","v":0.928,"e":0.006},{"w":1.265,"s":"JD","v":0.941,"e":0.006},{"w":1.306,"s":"JD","v":0.956,"e":0.006},{"w":1.349,"s":"JD","v":0.974,"e":0.006},{"w":1.393,"s":"JD","v":0.970,"e":0.006},{"w":1.439,"s":"JD","v":0.971,"e":0.006},{"w":1.486,"s":"JD","v":0.966,"e":0.006},{"w":1.535,"s":"JD","v":0.945,"e":0.006},{"w":1.585,"s":"JD","v":0.929,"e":0.006},{"w":1.637,"s":"JD","v":0.926,"e":0.006},{"w":1.690,"s":"JD","v":0.924,"e":0.006},{"w":1.746,"s":"JD","v":0.936,"e":0.006},{"w":1.803,"s":"JD","v":0.961,"e":0.006},{"w":1.862,"s":"JD","v":0.963,"e":0.006},{"w":1.923,"s":"JD","v":0.966,"e":0.007},{"w":1.986,"s":"JD","v":0.952,"e":0.007},{"w":2.051,"s":"JD","v":0.947,"e":0.007},{"w":2.118,"s":"JD","v":0.933,"e":0.007},{"w":2.188,"s":"JD","v":0.929,"e":0.007},{"w":2.259,"s":"JD","v":0.918,"e":0.007},{"w":2.333,"s":"JD","v":0.937,"e":0.007},{"w":2.410,"s":"JD","v":0.967,"e":0.007},{"w":2.489,"s":"JD","v":0.978,"e":0.007},{"w":2.570,"s":"JD","v":0.984,"e":0.007},{"w":2.655,"s":"JD","v":0.993,"e":0.007},{"w":2.742,"s":"JD","v":0.989,"e":0.007},{"w":2.831,"s":"JD","v":0.977,"e":0.007},{"w":2.924,"s":"JD","v":0.979,"e":0.007},{"w":3.020,"s":"JD","v":0.967,"e":0.007},{"w":3.119,"s":"JD","v":0.965,"e":0.007},{"w":3.221,"s":"JD","v":0.949,"e":0.007},{"w":3.327,"s":"JD","v":0.945,"e":0.007},{"w":3.436,"s":"JD","v":0.934,"e":0.007},{"w":3.548,"s":"JD","v":0.932,"e":0.007},{"w":3.664,"s":"JD","v":0.919,"e":0.008},{"w":3.784,"s":"JD","v":0.916,"e":0.008},{"w":3.908,"s":"JD","v":0.918,"e":0.008},{"w":3.972,"s":"JD","v":0.922,"e":0.008},{"w":4.036,"s":"JD","v":0.929,"e":0.008},{"w":4.102,"s":"JD","v":0.950,"e":0.008},{"w":4.169,"s":"JD","v":0.970,"e":0.008},{"w":4.236,"s":"JD","v":0.988,"e":0.008},{"w":4.305,"s":"JD","v":1.000,"e":0.008},{"w":4.446,"s":"JD","v":0.991,"e":0.008},{"w":4.592,"s":"JD","v":0.969,"e":0.008},{"w":4.742,"s":"JD","v":0.968,"e":0.008},{"w":4.898,"s":"JD","v":0.966,"e":0.008},
{"w":5.395,"s":"JD","v":0.955,"e":0.010},{"w":5.572,"s":"JD","v":0.982,"e":0.011},{"w":5.754,"s":"JD","v":0.958,"e":0.012},{"w":5.943,"s":"JD","v":0.977,"e":0.012},{"w":6.138,"s":"JD","v":0.947,"e":0.013},{"w":6.339,"s":"JD","v":0.968,"e":0.014},{"w":6.546,"s":"JD","v":0.968,"e":0.015},{"w":6.761,"s":"JD","v":0.987,"e":0.016},{"w":6.982,"s":"JD","v":0.954,"e":0.016},{"w":7.211,"s":"JD","v":0.974,"e":0.017},{"w":7.447,"s":"JD","v":0.944,"e":0.018},{"w":7.691,"s":"JD","v":0.980,"e":0.019},{"w":7.943,"s":"JD","v":0.957,"e":0.020},{"w":8.204,"s":"JD","v":0.984,"e":0.020},{"w":8.472,"s":"JD","v":0.942,"e":0.021},{"w":8.750,"s":"JD","v":0.964,"e":0.022},{"w":9.036,"s":"JD","v":0.926,"e":0.023},{"w":9.333,"s":"JD","v":0.980,"e":0.024},{"w":9.638,"s":"JD","v":0.965,"e":0.025},{"w":9.954,"s":"JD","v":1.010,"e":0.026},{"w":10.28,"s":"JD","v":0.964,"e":0.026},{"w":10.62,"s":"JD","v":0.933,"e":0.027},{"w":10.96,"s":"JD","v":0.998,"e":0.028},{"w":11.32,"s":"JD","v":0.980,"e":0.029},{"w":11.69,"s":"JD","v":0.990,"e":0.030},{"w":12.08,"s":"JD","v":0.959,"e":0.030},
{"w":5.483,"s":"JD","v":0.980,"e":0.011},{"w":5.662,"s":"JD","v":0.958,"e":0.012},{"w":5.848,"s":"JD","v":0.984,"e":0.012},{"w":6.039,"s":"JD","v":0.953,"e":0.013},{"w":6.237,"s":"JD","v":0.968,"e":0.014},{"w":6.442,"s":"JD","v":0.948,"e":0.015},{"w":6.653,"s":"JD","v":0.988,"e":0.016},{"w":6.871,"s":"JD","v":0.946,"e":0.016},{"w":7.096,"s":"JD","v":0.982,"e":0.017},{"w":7.328,"s":"JD","v":0.963,"e":0.018},{"w":7.568,"s":"JD","v":0.989,"e":0.019},{"w":7.816,"s":"JD","v":0.955,"e":0.020},{"w":8.072,"s":"JD","v":0.970,"e":0.020},{"w":8.337,"s":"JD","v":0.932,"e":0.021},{"w":8.610,"s":"JD","v":0.974,"e":0.022},{"w":8.892,"s":"JD","v":0.945,"e":0.023},{"w":9.183,"s":"JD","v":0.986,"e":0.024},{"w":9.484,"s":"JD","v":0.950,"e":0.025},{"w":9.795,"s":"JD","v":0.987,"e":0.026},{"w":10.12,"s":"JD","v":0.945,"e":0.026},{"w":10.45,"s":"JD","v":0.992,"e":0.027},{"w":10.79,"s":"JD","v":0.981,"e":0.028},{"w":11.14,"s":"JD","v":0.957,"e":0.029},{"w":11.51,"s":"JD","v":1.003,"e":0.030},{"w":11.88,"s":"JD","v":0.955,"e":0.030},
{"w":0.805,"s":"JD","v":0.752,"e":0.002},{"w":0.832,"s":"JD","v":0.753,"e":0.002},{"w":0.859,"s":"JD","v":0.749,"e":0.002},{"w":0.887,"s":"JD","v":0.748,"e":0.002},{"w":0.916,"s":"JD","v":0.753,"e":0.002},{"w":0.946,"s":"JD","v":0.747,"e":0.002},{"w":0.977,"s":"JD","v":0.742,"e":0.002},{"w":1.009,"s":"JD","v":0.742,"e":0.002},{"w":1.042,"s":"JD","v":0.738,"e":0.002},{"w":1.076,"s":"JD","v":0.733,"e":0.002},{"w":1.112,"s":"JD","v":0.747,"e":0.002},{"w":1.148,"s":"JD","v":0.747,"e":0.002},{"w":1.186,"s":"JD","v":0.741,"e":0.002},{"w":1.225,"s":"JD","v":0.730,"e":0.002},{"w":1.265,"s":"JD","v":0.740,"e":0.002},{"w":1.306,"s":"JD","v":0.757,"e":0.002},{"w":1.349,"s":"JD","v":0.772,"e":0.002},{"w":1.393,"s":"JD","v":0.772,"e":0.002},{"w":1.439,"s":"JD","v":0.771,"e":0.002},{"w":1.486,"s":"JD","v":0.763,"e":0.002},{"w":1.535,"s":"JD","v":0.746,"e":0.002},{"w":1.585,"s":"JD","v":0.731,"e":0.002},{"w":1.637,"s":"JD","v":0.724,"e":0.002},{"w":1.690,"s":"JD","v":0.723,"e":0.002},{"w":1.746,"s":"JD","v":0.739,"e":0.002},{"w":1.803,"s":"JD","v":0.760,"e":0.002},{"w":1.862,"s":"JD","v":0.764,"e":0.002},{"w":1.923,"s":"JD","v":0.764,"e":0.002},{"w":1.986,"s":"JD","v":0.754,"e":0.002},{"w":2.051,"s":"JD","v":0.746,"e":0.002},{"w":2.118,"s":"JD","v":0.734,"e":0.002},{"w":2.188,"s":"JD","v":0.724,"e":0.002},{"w":2.259,"s":"JD","v":0.717,"e":0.002},{"w":2.333,"s":"JD","v":0.737,"e":0.002},{"w":2.410,"s":"JD","v":0.764,"e":0.002},{"w":2.489,"s":"JD","v":0.779,"e":0.002},{"w":2.570,"s":"JD","v":0.786,"e":0.002},{"w":2.655,"s":"JD","v":0.791,"e":0.002},{"w":2.742,"s":"JD","v":0.788,"e":0.002},{"w":2.831,"s":"JD","v":0.780,"e":0.002},{"w":2.924,"s":"JD","v":0.778,"e":0.002},{"w":3.020,"s":"JD","v":0.768,"e":0.002},{"w":3.119,"s":"JD","v":0.763,"e":0.002},{"w":3.221,"s":"JD","v":0.751,"e":0.002},{"w":3.327,"s":"JD","v":0.744,"e":0.002},{"w":3.436,"s":"JD","v":0.735,"e":0.002},{"w":3.548,"s":"JD","v":0.730,"e":0.002},{"w":3.664,"s":"JD","v":0.721,"e":0.002},{"w":3.784,"s":"JD","v":0.716,"e":0.002},{"w":3.908,"s":"JD","v":0.715,"e":0.002},{"w":3.972,"s":"JD","v":0.721,"e":0.002},{"w":4.036,"s":"JD","v":0.730,"e":0.002},{"w":4.102,"s":"JD","v":0.751,"e":0.002},{"w":4.169,"s":"JD","v":0.772,"e":0.002},{"w":4.236,"s":"JD","v":0.788,"e":0.002},{"w":4.305,"s":"JD","v":0.798,"e":0.002},{"w":4.446,"s":"JD","v":0.790,"e":0.002},{"w":4.592,"s":"JD","v":0.772,"e":0.002},{"w":4.742,"s":"JD","v":0.767,"e":0.002},{"w":4.898,"s":"JD","v":0.767,"e":0.002},
{"w":5.395,"s":"JD","v":0.762,"e":0.004},{"w":5.572,"s":"JD","v":0.772,"e":0.004},{"w":5.754,"s":"JD","v":0.761,"e":0.004},{"w":5.943,"s":"JD","v":0.770,"e":0.005},{"w":6.138,"s":"JD","v":0.759,"e":0.005},{"w":6.339,"s":"JD","v":0.763,"e":0.005},{"w":6.546,"s":"JD","v":0.770,"e":0.006},{"w":6.761,"s":"JD","v":0.773,"e":0.006},{"w":6.982,"s":"JD","v":0.763,"e":0.006},{"w":7.211,"s":"JD","v":0.770,"e":0.006},{"w":7.447,"s":"JD","v":0.760,"e":0.007},{"w":7.691,"s":"JD","v":0.770,"e":0.007},{"w":7.943,"s":"JD","v":0.762,"e":0.007},{"w":8.204,"s":"JD","v":0.766,"e":0.007},{"w":8.472,"s":"JD","v":0.753,"e":0.008},{"w":8.750,"s":"JD","v":0.757,"e":0.008},{"w":9.036,"s":"JD","v":0.747,"e":0.008},{"w":9.333,"s":"JD","v":0.765,"e":0.008},{"w":9.638,"s":"JD","v":0.769,"e":0.008},{"w":9.954,"s":"JD","v":0.787,"e":0.009},{"w":10.28,"s":"JD","v":0.773,"e":0.009},{"w":10.62,"s":"JD","v":0.760,"e":0.009},{"w":10.96,"s":"JD","v":0.784,"e":0.009},{"w":11.32,"s":"JD","v":0.788,"e":0.009},{"w":11.69,"s":"JD","v":0.773,"e":0.009},{"w":12.08,"s":"JD","v":0.764,"e":0.009}
],
"ground":[
{"w":0.807,"s":"G","v":1.338,"lo":1.327,"hi":1.349,"wl":0.732,"wh":0.887},
{"w":0.742,"s":"G","v":1.198,"lo":1.185,"hi":1.211,"wl":0.679,"wh":0.811},
{"w":0.667,"s":"G","v":1.022,"lo":0.927,"hi":1.113,"wl":0.588,"wh":0.737}
],
"ranjan":[
{"w":1.122,"s":"R","v":1.118,"lo":1.073,"hi":1.163,"wl":1.097,"wh":1.147},
{"w":1.186,"s":"R","v":1.151,"lo":1.107,"hi":1.195,"wl":1.161,"wh":1.211},
{"w":1.239,"s":"R","v":1.085,"lo":1.041,"hi":1.129,"wl":1.214,"wh":1.264},
{"w":1.281,"s":"R","v":1.130,"lo":1.090,"hi":1.170,"wl":1.256,"wh":1.306},
{"w":1.333,"s":"R","v":1.184,"lo":1.150,"hi":1.218,"wl":1.308,"wh":1.358},
{"w":1.391,"s":"R","v":1.138,"lo":1.099,"hi":1.177,"wl":1.366,"wh":1.416},
{"w":1.463,"s":"R","v":1.138,"lo":1.099,"hi":1.177,"wl":1.438,"wh":1.488},
{"w":1.506,"s":"R","v":1.161,"lo":1.126,"hi":1.196,"wl":1.481,"wh":1.531},
{"w":1.563,"s":"R","v":1.085,"lo":1.035,"hi":1.135,"wl":1.538,"wh":1.588},
{"w":1.645,"s":"R","v":1.265,"lo":1.211,"hi":1.319,"wl":1.620,"wh":1.670}
],
"bands":[
{"i":"NIRSpec","a":0.692,"b":1.216,"v":0.6278},
{"i":"NIRSpec","a":1.0,"b":1.817,"v":0.6322},
{"i":"NIRSpec","a":1.683,"b":3.13,"v":0.6375},
{"i":"NIRSpec","a":2.89,"b":5.28,"v":0.6435},
{"i":"NIRISS","a":0.592,"b":2.55,"v":0.6232},
{"i":"NIRCam","a":2.39,"b":4.06,"v":0.6273},
{"i":"NIRCam","a":3.91,"b":5.08,"v":0.632},
{"i":"MIRI","a":4.94,"b":7.82,"v":0.6235},
{"i":"MIRI","a":7.82,"b":12.0,"v":0.628},
{"i":"MIRI","a":12.0,"b":17.3,"v":0.6325},
{"i":"MIRI","a":4.94,"b":11.8,"v":0.6385},
{"i":"MIRI","a":11.8,"b":13.8,"v":0.6405}
],
"blabels":[
{"i":"NIRISS","w":0.742,"v":0.615},
{"i":"NIRSpec","w":3.96,"v":0.657},
{"i":"NIRCam","w":3.95,"v":0.6186},
{"i":"MIRI","w":11.35,"v":0.6483}
],
"box":[{"a":8.0,"b":13.0,"lo":1.13,"hi":1.208}],
"tlabels":[{"t":"1 Transit","w":1.30,"v":0.873},{"t":"10 Transits","w":1.295,"v":0.676}]
},
"layer":[
{"data":{"name":"lines"},"transform":[{"filter":"datum.g > 0"}],
 "mark":{"type":"line","strokeWidth":4,"opacity":0.32,"clip":true},
 "encoding":{
  "x":{"field":"w","type":"quantitative","scale":{"type":"log","domain":[0.5289,17.12],"nice":false},
   "axis":{"orient":"top","values":[0.6,0.7,0.8,0.9,1,2,3,4,5,6,7,8,9,10],"labels":false,"tickSize":0,"title":"TrES − 4b","titleFont":"DejaVu Serif","titleFontSize":19,"titleFontWeight":"normal","titleColor":"#000","titleX":262,"titleY":-14,"titleBaseline":"middle","titleAlign":"center",
    "encoding":{"ticks":{"y2":{"value":{"expr":"datum.value == 1 || datum.value == 10 ? 16 : 10"}}}}}},
  "y":{"field":"v","type":"quantitative","scale":{"domain":[0.6,1.548],"nice":false,"zero":false},
   "axis":{"orient":"right","values":[0.6,0.65,0.7,0.75,0.8,0.85,0.9,0.95,1.0,1.05,1.1,1.15,1.2,1.25,1.3,1.35,1.4,1.45,1.5],"labels":false,"tickSize":0,"title":null,
    "encoding":{"ticks":{"x2":{"value":{"expr":"abs(datum.value*5 - round(datum.value*5)) < 0.01 ? -16 : -10"}}}}}},
  "color":{"field":"s","type":"nominal","title":null,
   "scale":{"domain":["C","M","D","G","R","JM","JD"],"range":["#8e5281","#ff1f1f","#1f87b6","#000000","#000000","#ff1f1f","#1f87b6"]},
   "legend":{"orient":"none","legendX":85,"legendY":11,"padding":0,"title":null,"labelFont":"Liberation Serif","labelFontSize":15,"labelColor":"#000","labelLimit":600,"symbolSize":256,"labelOffset":16.5,"rowPadding":-1,"gridAlign":"all",
    "labelExpr":"datum.value == 'C' ? 'Clear' : datum.value == 'M' ? 'Synthetic spectrum, Mie, Xₘₐₓ = 3 × 10⁻⁴ Zₚₗ, a = 0.08 μm' : datum.value == 'D' ? 'Synthetic spectrum, DHS, Xₘₐₓ = 3 × 10⁻⁴ Zₚₗ, a = 0.08 μm' : datum.value == 'G' ? 'Chan + 2011, Sozzetti + 2015, Turner + 2016 ground based data' : datum.value == 'R' ? 'Ranjan + 2014 WFC3 data' : 'Simulated JWST observations'",
    "encoding":{"symbols":{
      "shape":{"value":{"expr":"indexof(['C','M','D'], datum.value) >= 0 ? 'M-1.9,0H1.9' : datum.value == 'G' ? 'M-0.8,0H0.8M0,-0.95V0.95M-0.55,-0.7L0.55,0.7M-0.55,0.7L0.55,-0.7' : datum.value == 'R' ? 'M-0.7,-0.7H0.7V0.7H-0.7ZM-1,0H1M0,-1V1' : 'M0,-0.9V0.9M-0.36,0A0.36,0.36 0 1,0 0.36,0A0.36,0.36 0 1,0 -0.36,0'"}},
      "fill":{"value":{"expr":"scale('color', datum.value)"}},
      "stroke":{"value":{"expr":"scale('color', datum.value)"}},
      "strokeWidth":{"value":{"expr":"indexof(['C','M','D'], datum.value) >= 0 ? 2.5 : datum.value == 'G' ? 1.3 : 1.6"}},
      "opacity":{"value":1},"fillOpacity":{"value":1},"strokeOpacity":{"value":1}}}}},
  "detail":{"field":"g","type":"nominal"}
 }},
{"data":{"name":"lines"},"transform":[{"filter":"datum.g == 0"}],
 "mark":{"type":"line","strokeWidth":2,"clip":true},
 "encoding":{
  "x":{"field":"w","type":"quantitative",
   "axis":{"orient":"bottom","values":[0.6,0.7,0.8,0.9,1,2,3,4,5,6,7,8,9,10],"labelExpr":"datum.value == 1 ? '1' : datum.value == 10 ? '10' : ''","tickSize":0,"labelPadding":6,"labelFont":"DejaVu Serif","labelFontWeight":"bold","labelFontSize":17,"labelColor":"#000","labelFlush":false,"labelOverlap":false,
    "title":"Wavelength (μm)","titleFont":"DejaVu Serif","titleFontSize":17,"titleFontWeight":"normal","titleColor":"#000","titleY":41,"titleBaseline":"middle",
    "encoding":{"ticks":{"y2":{"value":{"expr":"datum.value == 1 || datum.value == 10 ? -16 : -10"}}}}}},
  "y":{"field":"v","type":"quantitative",
   "axis":{"orient":"left","values":[0.6,0.65,0.7,0.75,0.8,0.85,0.9,0.95,1.0,1.05,1.1,1.15,1.2,1.25,1.3,1.35,1.4,1.45,1.5],"labelExpr":"abs(datum.value*5 - round(datum.value*5)) < 0.01 ? format(datum.value, '.1f') : ''","tickSize":0,"labelPadding":6,"labelFont":"DejaVu Serif","labelFontWeight":"bold","labelFontSize":17,"labelColor":"#000","labelFlush":false,"labelOverlap":false,
    "title":"Absorption depth + offset (%)","titleFont":"DejaVu Serif","titleFontSize":17,"titleFontWeight":"normal","titleColor":"#000","titleX":-57,"titleAngle":270,"titleAlign":"center","titleBaseline":"middle",
    "encoding":{"ticks":{"x2":{"value":{"expr":"abs(datum.value*5 - round(datum.value*5)) < 0.01 ? 16 : 10"}}}}}},
  "color":{"field":"s","type":"nominal","title":null}
 }},
{"data":{"name":"lines"},"transform":[{"filter":"datum.g == 0 && datum.w >= 1.07"}],
 "mark":{"type":"line","strokeWidth":6,"clip":true},
 "encoding":{
  "x":{"field":"w","type":"quantitative","axis":null},
  "y":{"field":"v","type":"quantitative","axis":null},
  "color":{"field":"s","type":"nominal","title":null}
 }},
{"data":{"name":"box"},
 "mark":{"type":"rect","filled":false,"stroke":"#000","strokeWidth":2,"strokeDash":[7,5]},
 "encoding":{
  "x":{"field":"a","type":"quantitative","axis":null},"x2":{"field":"b"},
  "y":{"field":"lo","type":"quantitative","axis":null},"y2":{"field":"hi"}
 }},
{"data":{"name":"bands"},
 "mark":{"type":"rule","strokeWidth":4.5,"clip":true},
 "encoding":{
  "x":{"field":"a","type":"quantitative","axis":null},"x2":{"field":"b"},
  "y":{"field":"v","type":"quantitative","axis":null},
  "stroke":{"field":"i","type":"nominal","scale":{"domain":["NIRISS","NIRSpec","NIRCam","MIRI"],"range":["#8a8a8a","#5b9bd5","#f3a69e","#dc9ad0"]},"legend":null}
 }},
{"data":{"name":"blabels"},
 "mark":{"type":"text","font":"DejaVu Serif","fontWeight":"bold","fontSize":13,"align":"center","baseline":"middle"},
 "encoding":{
  "x":{"field":"w","type":"quantitative","axis":null},
  "y":{"field":"v","type":"quantitative","axis":null},
  "text":{"field":"i"},
  "fill":{"field":"i","type":"nominal","scale":{"domain":["NIRISS","NIRSpec","NIRCam","MIRI"],"range":["#8a8a8a","#5b9bd5","#f3a69e","#dc9ad0"]},"legend":null}
 }},
{"data":{"name":"pts"},
 "mark":{"type":"errorbar","ticks":false,"thickness":1.6},
 "encoding":{
  "x":{"field":"w","type":"quantitative","axis":null},
  "y":{"field":"v","type":"quantitative","axis":null},
  "yError":{"field":"e"},
  "color":{"field":"s","type":"nominal","title":null}
 }},
{"data":{"name":"pts"},
 "mark":{"type":"point","filled":true,"size":44,"stroke":"#1a1a1a","strokeWidth":0.7,"opacity":1},
 "encoding":{
  "x":{"field":"w","type":"quantitative","axis":null},
  "y":{"field":"v","type":"quantitative","axis":null},
  "color":{"field":"s","type":"nominal","title":null}
 }},
{"data":{"name":"ground"},
 "mark":{"type":"rule","color":"#000","strokeWidth":2},
 "encoding":{
  "x":{"field":"wl","type":"quantitative","axis":null},"x2":{"field":"wh"},
  "y":{"field":"v","type":"quantitative","axis":null}
 }},
{"data":{"name":"ground"},
 "mark":{"type":"rule","color":"#000","strokeWidth":2},
 "encoding":{
  "x":{"field":"w","type":"quantitative","axis":null},
  "y":{"field":"lo","type":"quantitative","axis":null},"y2":{"field":"hi"}
 }},
{"data":{"name":"ground"},
 "mark":{"type":"point","filled":false,"size":144,"strokeWidth":1.3,"opacity":1,"shape":"M-1,0H1M0,-1.2V1.2M-0.7,-0.85L0.7,0.85M-0.7,0.85L0.7,-0.85"},
 "encoding":{
  "x":{"field":"w","type":"quantitative","axis":null},
  "y":{"field":"v","type":"quantitative","axis":null},
  "color":{"field":"s","type":"nominal","title":null}
 }},
{"data":{"name":"ranjan"},
 "mark":{"type":"rule","color":"#000","strokeWidth":2.5},
 "encoding":{
  "x":{"field":"w","type":"quantitative","axis":null},
  "y":{"field":"lo","type":"quantitative","axis":null},"y2":{"field":"hi"}
 }},
{"data":{"name":"ranjan"},
 "mark":{"type":"rule","color":"#000","strokeWidth":2.5},
 "encoding":{
  "x":{"field":"wl","type":"quantitative","axis":null},"x2":{"field":"wh"},
  "y":{"field":"v","type":"quantitative","axis":null}
 }},
{"data":{"name":"ranjan"},
 "mark":{"type":"point","filled":true,"size":110,"shape":"square","opacity":1},
 "encoding":{
  "x":{"field":"w","type":"quantitative","axis":null},
  "y":{"field":"v","type":"quantitative","axis":null},
  "color":{"field":"s","type":"nominal","title":null}
 }},
{"data":{"name":"tlabels"},
 "mark":{"type":"text","font":"DejaVu Serif","fontWeight":"bold","fontSize":13.5,"align":"center","baseline":"middle","color":"#000"},
 "encoding":{
  "x":{"field":"w","type":"quantitative","axis":null},
  "y":{"field":"v","type":"quantitative","axis":null},
  "text":{"field":"t"}
 }}
],
"config":{
 "view":{"stroke":"#000","strokeWidth":1.5},
 "axis":{"grid":false,"domainColor":"#000","domainWidth":1.5,"tickColor":"#000","tickWidth":1.5}
}
}
